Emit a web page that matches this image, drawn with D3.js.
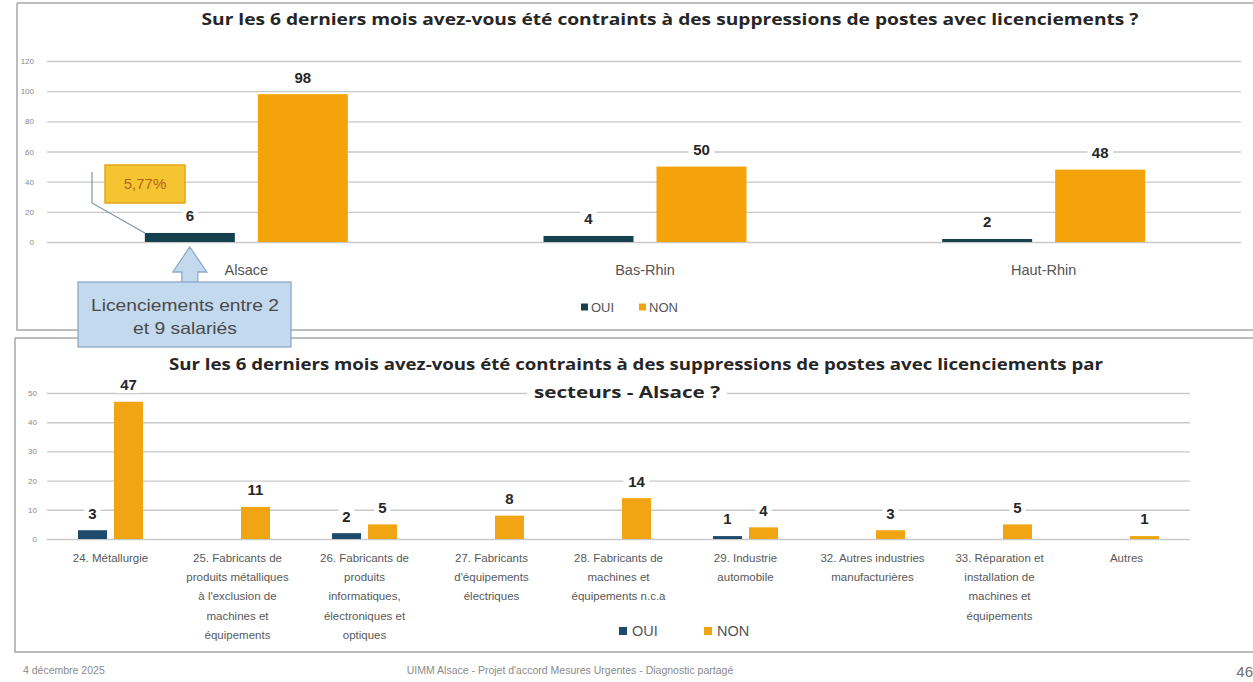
<!DOCTYPE html>
<html>
<head>
<meta charset="utf-8">
<script src="https://cdn.jsdelivr.net/npm/d3@7"></script>
<style>
  html, body { margin: 0; padding: 0; background: #ffffff; }
  svg { display: block; }
</style>
</head>
<body>
<svg id="chart" width="1253" height="682"></svg>
<script>
// ---------- DATA ----------
const series = ["OUI", "NON"];

const regions = ["Alsace", "Bas-Rhin", "Haut-Rhin"];
const ouiRegions = [6, 4, 2];
const nonRegions = [98, 50, 48];
const topTicks = [0, 20, 40, 60, 80, 100, 120];

const sectors = ["24", "25", "26", "27", "28", "29", "32", "33", "Autres"];
const sectorLabels = [
  ["24. Métallurgie"],
  ["25. Fabricants de", "produits métalliques", "à l'exclusion de", "machines et", "équipements"],
  ["26. Fabricants de", "produits", "informatiques,", "électroniques et", "optiques"],
  ["27. Fabricants", "d'équipements", "électriques"],
  ["28. Fabricants de", "machines et", "équipements n.c.a"],
  ["29. Industrie", "automobile"],
  ["32. Autres industries", "manufacturières"],
  ["33. Réparation et", "installation de", "machines et", "équipements"],
  ["Autres"]
];
const ouiSectors = [3, 0, 2, 0, 0, 1, 0, 0, 0];
const nonSectors = [47, 11, 5, 8, 14, 4, 3, 5, 1];
const bottomTicks = [0, 10, 20, 30, 40, 50];

const topTitle = "Sur les 6 derniers mois avez-vous été contraints à des suppressions de postes avec licenciements ?";
const bottomTitle = ["Sur les 6 derniers mois avez-vous été contraints à des suppressions de postes avec licenciements par", "secteurs - Alsace ?"];
const calloutPct = "5,77%";
const calloutNote = ["Licenciements entre 2", "et 9 salariés"];
const footerLeft = "4 décembre 2025";
const footerCenter = "UIMM Alsace - Projet d'accord Mesures Urgentes - Diagnostic partagé";
const pageNumber = "46";

// ---------- STYLE ----------
const svg = d3.select("#chart");
const FONT = "'Liberation Sans', Arial, sans-serif";
const TFONT = "'Open Sans', 'Liberation Sans', sans-serif";
const colTop = { OUI: "#17404e", NON: "#f4a30a" };
const colBot = { OUI: "#1e4a6e", NON: "#f2a512" };
const gridCol = "#c9c9c9";

function fit(sel, w) {
  sel.attr("textLength", w).attr("lengthAdjust", "spacingAndGlyphs");
  return sel;
}

// ---------- PANEL BORDERS ----------
svg.append("path").attr("d", "M17,3 L1260,3 M17,3 L17,330 L1260,330")
  .attr("fill", "none").attr("stroke", "#a8a8a8").attr("stroke-width", 1.5);
svg.append("path").attr("d", "M15,338 L1260,338 M15,338 L15,652 L1260,652")
  .attr("fill", "none").attr("stroke", "#a8a8a8").attr("stroke-width", 1.5);

// ---------- generic grouped bar chart ----------
function groupedChart(opt) {
  const g = svg.append("g");
  const y = d3.scaleLinear().domain(opt.yDomain).range([opt.y0, opt.y1]);
  const x0 = d3.scaleBand().domain(opt.cats).range(opt.xRange).padding(0);
  const bw = x0.bandwidth();
  const x1 = d3.scaleBand().domain(series)
    .range([bw / 2 - opt.half, bw / 2 + opt.half]).paddingInner(opt.pin);

  const yAxis = d3.axisLeft(y).tickValues(opt.ticks).tickSize(-(opt.gridEnd - opt.xRange[0])).tickPadding(opt.tickPad);
  const ax = g.append("g").attr("transform", `translate(${opt.xRange[0]},0)`).call(yAxis);
  ax.select(".domain").remove();
  ax.selectAll(".tick line").attr("stroke", gridCol).attr("stroke-width", 1.4);
  ax.selectAll(".tick text").attr("fill", "#8a8a8a").style("font-family", FONT).style("font-size", "8px");

  const data = opt.cats.map((c, i) => ({ c, i, vals: [
    { s: "OUI", v: opt.oui[i] }, { s: "NON", v: opt.non[i] }] }));

  const grp = g.selectAll("g.grp").data(data).enter().append("g")
    .attr("transform", d => `translate(${x0(d.c)},0)`);

  grp.selectAll("rect").data(d => d.vals.filter(v => v.v > 0)).enter().append("rect")
    .attr("x", d => x1(d.s)).attr("width", x1.bandwidth())
    .attr("y", d => y(d.v)).attr("height", d => y(0) - y(d.v))
    .attr("fill", d => opt.colors[d.s]);

  const lab = grp.selectAll("g.lab").data(d => d.vals.filter(v => v.v > 0)).enter().append("g")
    .attr("transform", d => `translate(${x1(d.s) + x1.bandwidth() / 2},${y(d.v) - opt.labOff})`);
  lab.append("rect").attr("x", d => -(String(d.v).length * 5 + 3)).attr("y", -8)
    .attr("width", d => String(d.v).length * 10 + 6).attr("height", 16).attr("fill", "#fff");
  lab.append("text").text(d => d.v).attr("text-anchor", "middle").attr("dy", "0.36em")
    .attr("fill", "#262626").style("font-family", FONT).style("font-weight", "bold")
    .style("font-size", opt.labSize + "px");

  return { g, x0, x1, y, bw };
}

// ---------- TOP CHART ----------
const topC = groupedChart({
  cats: regions, oui: ouiRegions, non: nonRegions,
  yDomain: [0, 120], y0: 242, y1: 61, ticks: topTicks,
  xRange: [47, 1243], gridEnd: 1241, half: 101.5, pin: 0.2035,
  colors: colTop, labOff: 17, labSize: 15, tickPad: 13
});
topC.g.selectAll("text.cat").data(regions).enter().append("text")
  .attr("x", d => topC.x0(d) + topC.bw / 2).attr("y", 275)
  .attr("text-anchor", "middle").attr("fill", "#555")
  .style("font-family", FONT).style("font-size", "14.5px").text(d => d);

fit(svg.append("text").attr("x", 670).attr("y", 25).attr("text-anchor", "middle")
  .attr("fill", "#262626").style("font-family", TFONT).style("font-weight", "bold")
  .style("font-size", "16px").text(topTitle), 937);

function legend(cy, sq, gap, colors, size, items) {
  const lg = svg.append("g");
  items.forEach(it => {
    lg.append("rect").attr("x", it.x).attr("y", cy - sq / 2).attr("width", sq).attr("height", sq)
      .attr("fill", colors[it.s]);
    lg.append("text").attr("x", it.x + sq + gap).attr("y", cy).attr("dy", "0.36em")
      .attr("fill", "#555").style("font-family", FONT).style("font-size", size + "px").text(it.s);
  });
}
legend(307, 7, 3, colTop, 13, [{ s: "OUI", x: 581 }, { s: "NON", x: 639 }]);

// callout 5,77%
const oX = topC.x0("Alsace") + topC.x1("OUI");
const oY = topC.y(ouiRegions[0]);
svg.append("path").attr("d", `M92,172 L92,203 L${oX},${oY}`)
  .attr("fill", "none").attr("stroke", "#8193aa").attr("stroke-width", 1.2);
svg.append("rect").attr("x", 105).attr("y", 165).attr("width", 80).attr("height", 38)
  .attr("fill", "#f6c430").attr("stroke", "#e1a91a").attr("stroke-width", 1.5);
svg.append("text").attr("x", 145).attr("y", 184).attr("dy", "0.36em").attr("text-anchor", "middle")
  .attr("fill", "#b5661c").style("font-family", FONT).style("font-size", "15px").text(calloutPct);

// block arrow + note
const ax0 = topC.x0("Alsace") + topC.x1("OUI") + topC.x1.bandwidth() / 2;
svg.append("path")
  .attr("d", `M${ax0},247 L${ax0 + 17},272 L${ax0 + 8},272 L${ax0 + 8},283 L${ax0 - 8},283 L${ax0 - 8},272 L${ax0 - 17},272 Z`)
  .attr("fill", "#c3d9ee").attr("stroke", "#8eaac8").attr("stroke-width", 1.3);
svg.append("rect").attr("x", 78).attr("y", 282).attr("width", 213).attr("height", 65)
  .attr("fill", "#c3d9ee").attr("stroke", "#8eaac8").attr("stroke-width", 1.3);
const noteW = [188, 104];
calloutNote.forEach((t, i) => {
  fit(svg.append("text").attr("x", 185).attr("y", 305 + i * 23).attr("dy", "0.36em")
    .attr("text-anchor", "middle").attr("fill", "#4a4a4a")
    .style("font-family", FONT).style("font-size", "16.5px").text(t), noteW[i]);
});

// ---------- BOTTOM CHART ----------
const botC = groupedChart({
  cats: sectors, oui: ouiSectors, non: nonSectors,
  yDomain: [0, 50], y0: 539, y1: 393, ticks: bottomTicks,
  xRange: [47, 1190], gridEnd: 1190, half: 32.5, pin: 0.194,
  colors: colBot, labOff: 17, labSize: 15, tickPad: 10
});

fit(svg.append("text").attr("x", 636).attr("y", 370).attr("text-anchor", "middle")
  .attr("fill", "#262626").style("font-family", TFONT).style("font-weight", "bold")
  .style("font-size", "16px").text(bottomTitle[0]), 934);
svg.append("rect").attr("x", 527).attr("y", 384).attr("width", 200).attr("height", 20).attr("fill", "#fff");
fit(svg.append("text").attr("x", 627).attr("y", 398).attr("text-anchor", "middle")
  .attr("fill", "#262626").style("font-family", TFONT).style("font-weight", "bold")
  .style("font-size", "16px").text(bottomTitle[1]), 186);

sectors.forEach((c, i) => {
  const t = botC.g.append("text").attr("text-anchor", "middle").attr("fill", "#595959")
    .style("font-family", FONT).style("font-size", "11.5px");
  sectorLabels[i].forEach((line, j) => {
    t.append("tspan").attr("x", botC.x0(c) + botC.bw / 2).attr("y", 562 + j * 19.2).text(line);
  });
});

legend(631, 8, 5, colBot, 14.5, [{ s: "OUI", x: 619 }, { s: "NON", x: 704 }]);

// ---------- FOOTER ----------
svg.append("text").attr("x", 23).attr("y", 674).attr("fill", "#8a8a8a")
  .style("font-family", FONT).style("font-size", "10.5px").text(footerLeft);
svg.append("text").attr("x", 570).attr("y", 674).attr("text-anchor", "middle").attr("fill", "#8a8a8a")
  .style("font-family", FONT).style("font-size", "10.5px").text(footerCenter);
svg.append("text").attr("x", 1253).attr("y", 677).attr("text-anchor", "end").attr("fill", "#707070")
  .style("font-family", FONT).style("font-size", "15px").text(pageNumber);
</script>
</body>
</html>
